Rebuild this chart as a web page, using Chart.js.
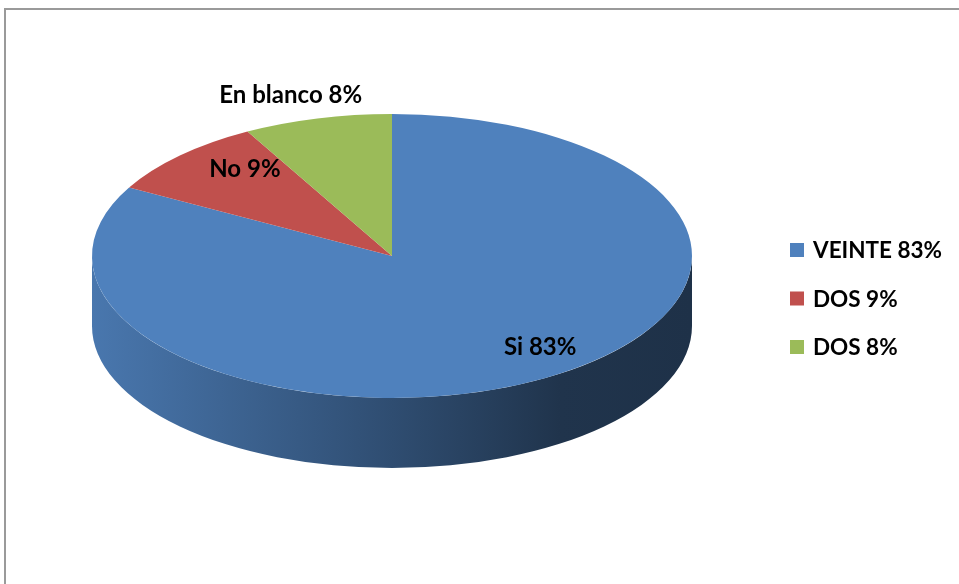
<!DOCTYPE html>
<html>
<head>
<meta charset="utf-8">
<script src="https://cdn.jsdelivr.net/npm/chart.js@4/dist/chart.umd.min.js"></script>
<style>
  html, body { margin: 0; padding: 0; background: #ffffff; }
  #wrap { position: relative; width: 959px; height: 584px; overflow: hidden; }
  canvas { display: block; }
</style>
</head>
<body>
<div id="wrap"><canvas id="c" width="959" height="584"></canvas></div>
<script>
// ---- data ----
const categories = ["VEINTE 83%", "DOS 9%", "DOS 8%"];
const values = [83, 9, 8];
const sliceLabels = ["Si 83%", "No 9%", "En blanco 8%"];
const colors = ["#4F81BD", "#C0504D", "#9BBB59"];

// ---- style / geometry ----
const STYLE = {
  cx: 392, cy: 256, rx: 300, ry: 142, depth: 70,
  font: "bold 24px Lato, 'Open Sans', sans-serif",
  legendFont: "bold 22.5px Lato, 'Open Sans', sans-serif",
  labelFrac: [0.8, 0.75, 1.17],
  labelNudge: [[26, -7], [12, -11], [-14, 0]],
  legendX: 790, legendY: 250, legendGap: 48.5, legendBox: 14, legendTextX: 813
};

function shade(hex, f) {
  const n = parseInt(hex.slice(1), 16);
  const r = Math.round(((n >> 16) & 255) * f);
  const g = Math.round(((n >> 8) & 255) * f);
  const b = Math.round((n & 255) * f);
  return `rgb(${r},${g},${b})`;
}

const pie3d = {
  id: 'pie3d',
  beforeDraw(chart) {
    const ctx = chart.ctx;
    ctx.save();
    ctx.strokeStyle = '#9a9a9a';
    ctx.lineWidth = 2;
    ctx.beginPath();
    ctx.moveTo(5, 2000);
    ctx.lineTo(5, 9);
    ctx.lineTo(2000, 9);
    ctx.stroke();
    ctx.restore();
  },
  beforeDatasetsDraw(chart) {
    const ctx = chart.ctx;
    const meta = chart.getDatasetMeta(0);
    const { cx, cy, rx, ry, depth } = STYLE;
    // side walls (front half only)
    meta.data.forEach((arc, i) => {
      const ranges = [[0, Math.PI], [2 * Math.PI, 3 * Math.PI]];
      ranges.forEach(([lo, hi]) => {
        const a = Math.max(arc.startAngle, lo), b = Math.min(arc.endAngle, hi);
        if (b <= a) return;
        const base = chart.data.datasets[0].backgroundColor[i];
        const g = ctx.createLinearGradient(cx - rx, 0, cx + rx, 0);
        g.addColorStop(0, shade(base, 0.92));
        g.addColorStop(0.5, shade(base, 0.6));
        g.addColorStop(0.78, shade(base, 0.4));
        g.addColorStop(1, shade(base, 0.38));
        ctx.save();
        ctx.beginPath();
        ctx.ellipse(cx, cy, rx, ry, 0, a, b, false);
        ctx.ellipse(cx, cy + depth, rx, ry, 0, b, a, true);
        ctx.closePath();
        ctx.fillStyle = g;
        ctx.fill();
        ctx.restore();
      });
    });
    // squash the top face into an ellipse
    const a0 = meta.data[0];
    const sx = rx / a0.outerRadius, sy = ry / a0.outerRadius;
    ctx.save();
    ctx.translate(cx, cy);
    ctx.scale(sx, sy);
    ctx.translate(-a0.x, -a0.y);
  },
  afterDatasetsDraw(chart) {
    chart.ctx.restore();
  },
  afterDraw(chart) {
    const ctx = chart.ctx;
    const meta = chart.getDatasetMeta(0);
    const { cx, cy, rx, ry } = STYLE;
    ctx.save();
    ctx.font = STYLE.font;
    ctx.fillStyle = '#000';
    ctx.textAlign = 'center';
    ctx.textBaseline = 'middle';
    meta.data.forEach((arc, i) => {
      const mid = (arc.startAngle + arc.endAngle) / 2;
      const f = STYLE.labelFrac[i];
      const [dx, dy] = STYLE.labelNudge[i];
      ctx.fillText(sliceLabels[i], cx + rx * f * Math.cos(mid) + dx, cy + ry * f * Math.sin(mid) + dy);
    });
    // legend
    ctx.font = STYLE.legendFont;
    ctx.textAlign = 'left';
    chart.data.labels.forEach((lab, i) => {
      const y = STYLE.legendY + i * STYLE.legendGap;
      ctx.fillStyle = chart.data.datasets[0].backgroundColor[i];
      ctx.fillRect(STYLE.legendX, y - STYLE.legendBox / 2, STYLE.legendBox, STYLE.legendBox);
      ctx.fillStyle = '#000';
      ctx.fillText(lab, STYLE.legendTextX, y + 1);
    });
    ctx.restore();
  }
};

new Chart(document.getElementById('c'), {
  type: 'pie',
  data: {
    labels: categories,
    datasets: [{
      data: values,
      backgroundColor: colors,
      borderWidth: 0
    }]
  },
  options: {
    responsive: false,
    animation: false,
    layout: { padding: 0 },
    plugins: { legend: { display: false }, tooltip: { enabled: false } }
  },
  plugins: [pie3d]
});
</script>
</body>
</html>
